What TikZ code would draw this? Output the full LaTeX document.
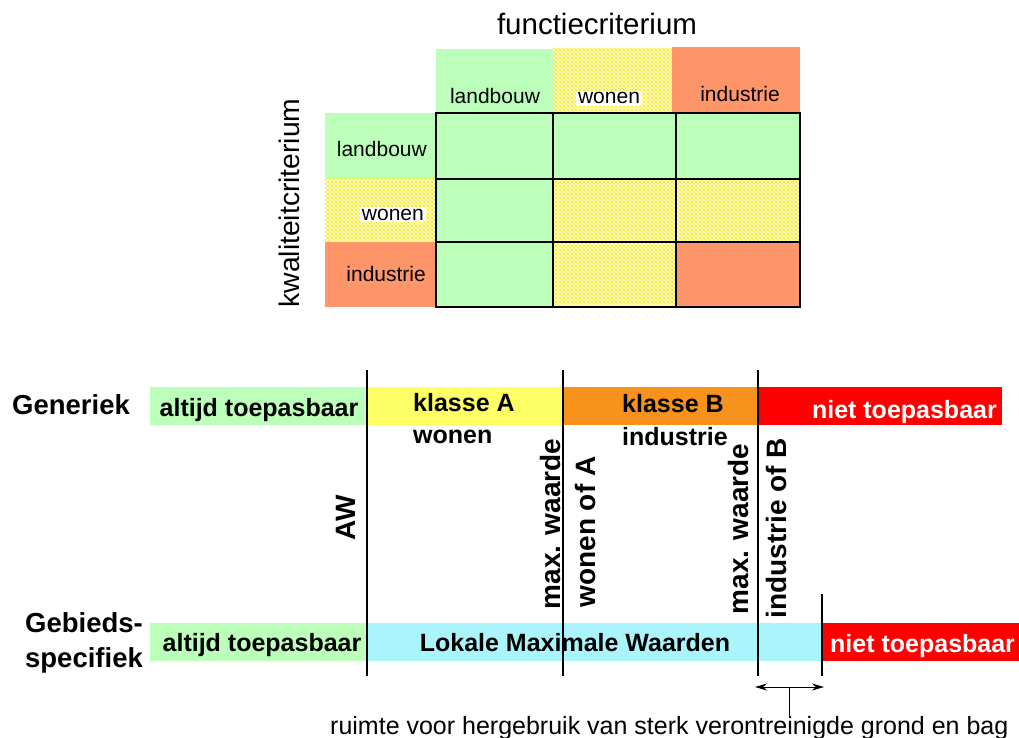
\documentclass[tikz,border=0pt]{standalone}
\usepackage{fontspec}
\setmainfont{Liberation Sans}
\usetikzlibrary{patterns,arrows.meta}
\definecolor{lgreen}{RGB}{187,255,187}
\definecolor{salmon}{RGB}{255,150,105}
\definecolor{byellow}{RGB}{255,255,102}
\definecolor{borange}{RGB}{247,146,29}
\definecolor{bred}{RGB}{255,0,0}
\definecolor{bcyan}{RGB}{170,245,252}
\definecolor{hyellow}{RGB}{255,240,0}
\pgfdeclarepatternformonly{ydots}{\pgfpoint{-1pt}{-1pt}}{\pgfpoint{5pt}{5pt}}{\pgfpoint{4pt}{4pt}}{%
  \pgfpathcircle{\pgfpoint{0pt}{0pt}}{1.15pt}%
  \pgfpathcircle{\pgfpoint{2pt}{2pt}}{1.15pt}%
  \pgfpathcircle{\pgfpoint{4pt}{0pt}}{1.15pt}%
  \pgfpathcircle{\pgfpoint{0pt}{4pt}}{1.15pt}%
  \pgfpathcircle{\pgfpoint{4pt}{4pt}}{1.15pt}%
  \pgfusepath{fill}}
\tikzset{
  greencell/.style={fill=lgreen},
  salmoncell/.style={fill=salmon},
  hatchcell/.style={fill=white, postaction={pattern=ydots, pattern color=hyellow}},
  mlabel/.style={inner sep=0pt, font=\fontsize{21}{24}\selectfont},
  blabel/.style={inner sep=0pt, font=\fontsize{25}{30}\selectfont\bfseries},
  rlabel/.style={inner sep=0pt, rotate=90, anchor=base, font=\fontsize{28}{32}\selectfont\bfseries},
  hlabel/.style={inner sep=0pt, font=\fontsize{27.5}{32}\selectfont\bfseries},
  divline/.style={draw=black, line width=1.2pt},
  gridline/.style={draw=black, line width=1.6pt}
}
\begin{document}
\begin{tikzpicture}[x=1pt,y=-1pt]
\useasboundingbox (0,0) rectangle (1019,738);
\clip (0,0) rectangle (1019,738);

% ---------- matrix ----------
\node[inner sep=0pt, anchor=base, font=\fontsize{29.5}{34}\selectfont] (fc) at (597,35) {functiecriterium};
\node[inner sep=0pt, anchor=base, rotate=90, font=\fontsize{28.3}{32}\selectfont] (kc) at (299,203) {kwaliteitcriterium};

% headers
\fill[greencell] (436,49) rectangle (553,113);
\fill[hatchcell] (553,49) rectangle (676,113);
\fill[salmoncell] (672,47) rectangle (800,113);
\fill[greencell] (325,113) rectangle (436,179);
\fill[hatchcell] (325,179) rectangle (436,242);
\fill[salmoncell] (325,242) rectangle (436,307);

% cells
\fill[greencell] (436,113) rectangle (800,179);
\fill[greencell] (436,179) rectangle (553,307);
\fill[hatchcell] (553,179) rectangle (800,242);
\fill[hatchcell] (553,242) rectangle (676,307);
\fill[salmoncell] (676,242) rectangle (800,307);

\draw[gridline] (436,113) rectangle (800,307);
\draw[gridline, line width=1.3pt] (553,113) -- (553,307) (676,113) -- (676,307)
  (436,179) -- (800,179) (436,242) -- (800,242);

\node[mlabel, anchor=base] (hl) at (495,104) {landbouw};
\node[mlabel, anchor=base, fill=white, inner sep=2pt] (hw) at (609,104) {wonen};
\node[mlabel, anchor=base] (hi) at (740,102) {industrie};
\node[mlabel, anchor=base east] (rl) at (427,157) {landbouw};
\node[mlabel, anchor=base east, fill=white, inner sep=2pt] (rw) at (426,220) {wonen};
\node[mlabel, anchor=base east] (ri) at (426,281) {industrie};

% ---------- bars ----------
\fill[lgreen] (150,387) rectangle (367,425);
\fill[byellow] (367,387) rectangle (563,425);
\fill[borange] (563,387) rectangle (758,425);
\fill[bred] (758,387) rectangle (1002,425);

\fill[lgreen] (150,623) rectangle (367,661);
\fill[bcyan] (367,623) rectangle (822,661);
\fill[bred] (822,623) rectangle (1019,661);

% divider lines
\coordinate (a1) at (367,370); \coordinate (a2) at (367,676);
\coordinate (b1) at (563,370); \coordinate (b2) at (563,676);
\coordinate (c1) at (758,370); \coordinate (c2) at (758,676);
\coordinate (d1) at (822,594); \coordinate (d2) at (822,676);
\draw[divline] (a1) -- (a2);
\draw[divline] (b1) -- (b2);
\draw[divline] (c1) -- (c2);
\draw[divline] (d1) -- (d2);

% labels
\node[hlabel, anchor=base] (gen) at (71,414) {Generiek};
\node[hlabel, anchor=base] (geb1) at (84,632) {Gebieds-};
\node[hlabel, anchor=base] (geb2) at (84,667) {specifiek};

\node[blabel, anchor=base] (at1) at (259,416) {altijd toepasbaar};
\node[blabel, anchor=base west] (ka) at (413,411) {klasse A};
\node[blabel, anchor=base west] (kaw) at (413,443) {wonen};
\node[blabel, anchor=base west] (kb) at (622,412) {klasse B};
\node[blabel, anchor=base west] (kbi) at (622,445) {industrie};
\node[blabel, anchor=base east, text=white] (nt1) at (997,418) {niet toepasbaar};

\node[blabel, anchor=base] (at2) at (262,651) {altijd toepasbaar};
\node[blabel, anchor=base] (lmw) at (575,651) {Lokale Maximale Waarden};
\node[blabel, anchor=base west, text=white] (nt2) at (830,652) {niet toepasbaar};

\node[rlabel] (aw) at (355,518) {AW};
\node[rlabel] (mw1) at (560,524) {max. waarde};
\node[rlabel] (woa) at (595,532) {wonen of A};
\node[rlabel] (mw2) at (748,529) {max. waarde};
\node[rlabel] (iob) at (786,528) {industrie of B};

% arrow
\coordinate (ar1) at (755,687);
\coordinate (ar2) at (824,687);
\coordinate (tk1) at (789,687);
\coordinate (tk2) at (789,717);
\draw[line width=1pt, {Stealth[length=12pt,width=7pt]}-{Stealth[length=12pt,width=7pt]}] (ar1) -- (ar2);
\draw[line width=1pt] (tk1) -- (tk2);
\node[inner sep=0pt, anchor=base west, font=\fontsize{25}{30}\selectfont] (cap) at (330,734) {ruimte voor hergebruik van sterk verontreinigde grond en bag};
\end{tikzpicture}
\end{document}
